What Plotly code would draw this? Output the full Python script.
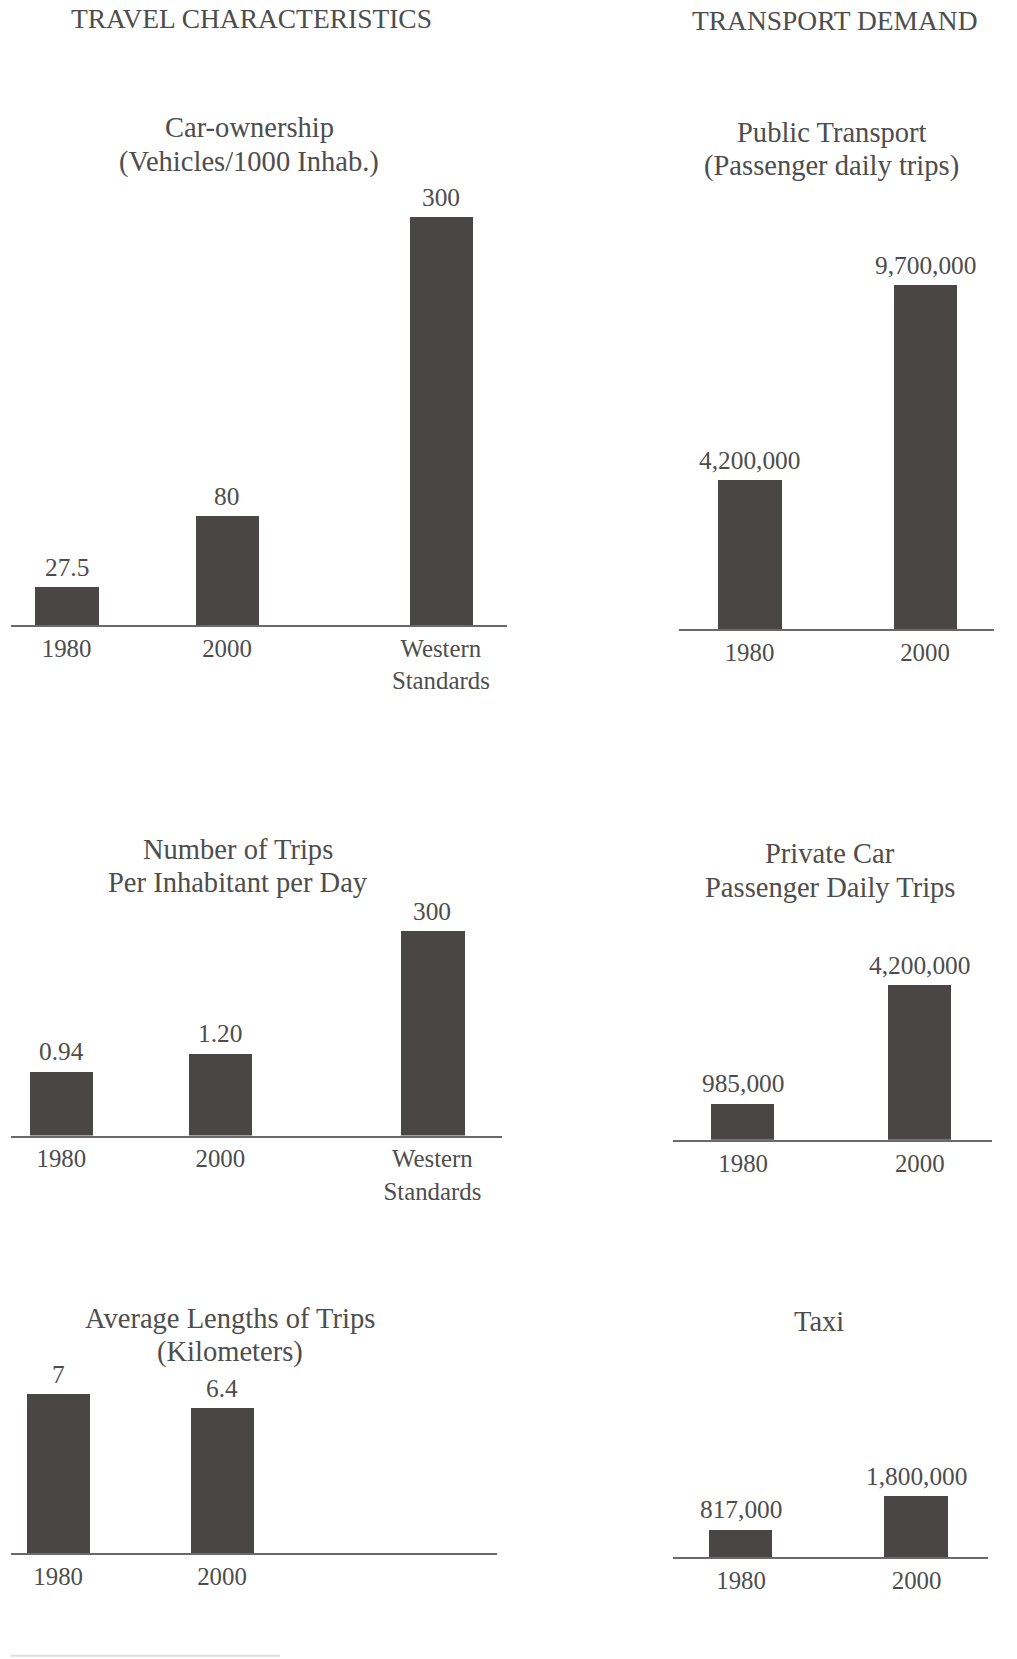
import plotly.graph_objects as go

# ---------------- data ----------------
car_cats = ["1980", "2000", "Western<br>Standards"]
car_vals = [27.5, 80, 300]
car_text = ["27.5", "80", "300"]

trips_cats = ["1980", "2000", "Western<br>Standards"]
trips_vals = [0.94, 1.20, 3.00]
trips_text = ["0.94", "1.20", "300"]

len_cats = ["1980", "2000"]
len_vals = [7, 6.4]
len_text = ["7", "6.4"]

pt_cats = ["1980", "2000"]
pt_vals = [4200000, 9700000]
pt_text = ["4,200,000", "9,700,000"]

pc_cats = ["1980", "2000"]
pc_vals = [985000, 4200000]
pc_text = ["985,000", "4,200,000"]

taxi_cats = ["1980", "2000"]
taxi_vals = [817000, 1800000]
taxi_text = ["817,000", "1,800,000"]

# ---------------- layout helpers ----------------
W, H = 1017, 1659
W0, H0 = 962.0, 1569.0   # reading frame
S = W / W0

def fx(x):
    return x / W0

def fy(y):
    return 1 - y / H0

FONT = "Liberation Serif, Times New Roman, serif"
TXT = "#4d4d4d"
BAR = "#4a4646"
AX = "#6a6a6a"

fig = go.Figure()

# slots: category slot index of each category (uneven spacing via blank slots)
charts = [
    dict(cats=car_cats, vals=car_vals, text=car_text, slots=[0, 3, 7], x0=10, x1=480, base=591,
         cfirst=63, clast=417, top_val=300, top_px=385,
         title=["Car-ownership", "(Vehicles/1000 Inhab.)"], tcx=236, tys=[121, 153]),
    dict(cats=trips_cats, vals=trips_vals, text=trips_text, slots=[0, 3, 7], x0=10, x1=475, base=1074,
         cfirst=58, clast=409, top_val=3.0, top_px=193,
         title=["Number of Trips", "Per Inhabitant per Day"], tcx=225, tys=[803, 835]),
    dict(cats=len_cats, vals=len_vals, text=len_text, slots=[0, 1], x0=10, x1=470, base=1469,
         cfirst=55, clast=210, top_val=7, top_px=150,
         title=["Average Lengths of Trips", "(Kilometers)"], tcx=218, tys=[1247, 1279]),
    dict(cats=pt_cats, vals=pt_vals, text=pt_text, slots=[0, 1], x0=642, x1=940, base=595,
         cfirst=709, clast=875, top_val=9700000, top_px=325,
         title=["Public Transport", "(Passenger daily trips)"], tcx=787, tys=[125, 157]),
    dict(cats=pc_cats, vals=pc_vals, text=pc_text, slots=[0, 1], x0=637, x1=938, base=1078,
         cfirst=703, clast=870, top_val=4200000, top_px=146,
         title=["Private Car", "Passenger Daily Trips"], tcx=785, tys=[807, 839]),
    dict(cats=taxi_cats, vals=taxi_vals, text=taxi_text, slots=[0, 1], x0=637, x1=935, base=1473,
         cfirst=701, clast=867, top_val=1800000, top_px=58,
         title=["Taxi"], tcx=775, tys=[1250]),
]

annotations = []
layout_axes = {}
for i, c in enumerate(charts, start=1):
    xa = "x" if i == 1 else f"x{i}"
    ya = "y" if i == 1 else f"y{i}"
    ppu = c["top_px"] / c["top_val"]
    dom_h = c["top_px"] + 60
    ymax = dom_h / ppu
    n_slots = c["slots"][-1] + 1
    order = [" " * (k + 1) for k in range(n_slots)]
    for cat, s in zip(c["cats"], c["slots"]):
        order[s] = cat
    sp = (c["clast"] - c["cfirst"]) / c["slots"][-1]
    fig.add_trace(go.Bar(
        x=c["cats"], y=c["vals"],
        marker=dict(color=BAR, line=dict(width=0)),
        width=60 / sp, cliponaxis=False, xaxis=xa, yaxis=ya,
        showlegend=False, hoverinfo="skip",
    ))
    for cat, v, t in zip(c["cats"], c["vals"], c["text"]):
        annotations.append(dict(
            text=t, x=order.index(cat), y=v, xref=xa, yref=ya,
            xanchor="center", yanchor="middle",
            yshift=19.5 * S, showarrow=False,
            font=dict(family=FONT, size=24 * S, color=TXT),
        ))
    r0 = (c["x0"] - c["cfirst"]) / sp
    r1 = (c["x1"] - c["cfirst"]) / sp
    layout_axes["xaxis" if i == 1 else f"xaxis{i}"] = dict(
        domain=[fx(c["x0"]), fx(c["x1"])], range=[r0, r1], type="category",
        categoryorder="array", categoryarray=order, tickangle=0,
        anchor=ya, showline=True, linecolor=AX, linewidth=2, showgrid=False,
        zeroline=False, ticks="", ticklabelstandoff=0,
        tickfont=dict(family=FONT, size=23.5 * S, color=TXT), fixedrange=True,
    )
    layout_axes["yaxis" if i == 1 else f"yaxis{i}"] = dict(
        domain=[fy(c["base"]), fy(c["base"] - dom_h)], range=[0, ymax],
        anchor=xa, visible=False, showgrid=False, zeroline=False, fixedrange=True,
    )
    for line, ty in zip(c["title"], c["tys"]):
        annotations.append(dict(
            text=line, x=fx(c["tcx"]), y=fy(ty), xref="paper", yref="paper",
            xanchor="center", yanchor="middle", showarrow=False,
            font=dict(family=FONT, size=27 * S, color=TXT),
        ))

headers = [("TRAVEL CHARACTERISTICS", 238, 18), ("TRANSPORT DEMAND", 790, 20)]
for t, hx, hy in headers:
    annotations.append(dict(
        text=t, x=fx(hx), y=fy(hy), xref="paper", yref="paper",
        xanchor="center", yanchor="middle", showarrow=False,
        font=dict(family=FONT, size=26 * S, color=TXT),
    ))

fig.update_layout(
    width=W, height=H, margin=dict(l=0, r=0, t=0, b=0),
    paper_bgcolor="white", plot_bgcolor="rgba(0,0,0,0)",
    annotations=annotations, bargap=0,
    shapes=[dict(type="line", xref="paper", yref="paper",
                 x0=fx(10), x1=fx(265), y0=fy(1566), y1=fy(1566),
                 line=dict(color="#dddddd", width=2))],
    **layout_axes,
)

fig.write_html("out.html", config={"displayModeBar": False},
               post_script="document.body.style.margin='0';")
